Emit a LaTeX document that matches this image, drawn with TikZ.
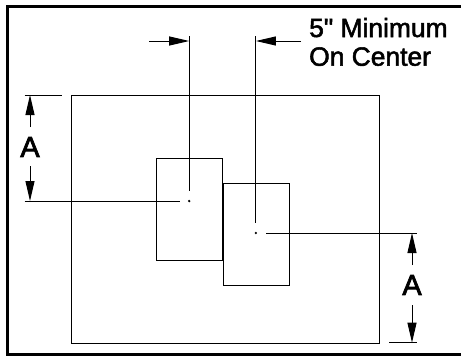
\documentclass[tikz,border=0pt]{standalone}
\usepackage{fontspec}
\setmainfont[Ligatures=NoCommon]{Liberation Sans}
\newfontfamily\notefont[FakeBold=2]{Liberation Sans}
\newfontfamily\heavyfont[FakeBold=2.5]{Liberation Sans}
\usetikzlibrary{arrows.meta,positioning,calc}

\tikzset{
  panel/.style={draw, line width=1pt, inner sep=0pt, minimum width=#1},
  extline/.style={line width=1pt},
  dimline/.style={line width=1pt, -{Triangle[length=20pt,width=9pt]}},
  letter/.style={font=\heavyfont\fontsize{29}{29}\selectfont, inner sep=0pt},
  notetext/.style={anchor=base west, inner sep=0pt, font=\notefont\fontsize{26.4}{26.4}\selectfont},
}

\begin{document}
\begin{tikzpicture}[x=1pt, y=-1pt]
\useasboundingbox (0,0) rectangle (461,356);

% outer frame
\draw[line width=3.2pt] (461,6.2) -- (7.5,6.2) -- (7.5,354.5) -- (461,354.5);

% plate and the two boxes
\node (plate) [panel=307.8pt, minimum height=247.7pt, anchor=north west] at (71,95) {};
\node (boxA) [panel=66pt, minimum height=102.3pt, anchor=north west] at (156,158) {};
\node (boxB) [panel=66.7pt, minimum height=102pt, anchor=north west] at (222.5,182.7) {};

% center points
\node (ctrA) [circle, fill, inner sep=0pt, minimum size=2.6pt] at (189.2,201) {};
\node (ctrB) [circle, fill, inner sep=0pt, minimum size=2.6pt] at (255.9,233) {};

% extension lines
\coordinate (topA) at (189.2,36);
\coordinate (topB) at (255.9,36);
\coordinate (endA) at (189.2,191);
\coordinate (endB) at (255.9,223);
\draw[extline] (topA) -- (endA);
\draw[extline] (topB) -- (endB);

\coordinate (leftA) at (24.5,201);
\coordinate (stopA) at (180,201);
\coordinate (startB) at (266,233);
\coordinate (rightB) at (417,233);
\draw[extline] (leftA) -- (stopA);
\draw[extline] (startB) -- (rightB);

\coordinate (leftT) at (24.5,95);
\coordinate (leftE) at (61.5,95);
\coordinate (rightS) at (389,342.7);
\coordinate (rightE) at (417,342.7);
\draw[extline] (leftT) -- (leftE);
\draw[extline] (rightS) -- (rightE);

% spacing dimension
\coordinate (tipA) at (189.2,41);
\coordinate (tipB) at (255.9,41);
\coordinate (tailA) at (149,41);
\coordinate (tailB) at (301,41);
\draw[dimline] (tailA) -- (tipA);
\draw[dimline] (tailB) -- (tipB);

\node (noteA) [notetext] at (309,37) {5\symbol{34} Minimum};
\node (noteB) [notetext] at (309,65.7) {On Center};

% A dimensions
\node (dimL) [letter] at (30,147) {A};
\node (dimR) [letter] at (412,285) {A};
\coordinate (dimLt) at (30,95);
\coordinate (dimLb) at (30,201);
\coordinate (dimRt) at (412,233);
\coordinate (dimRb) at (412,342.7);
\coordinate (dimLu) at (30,127);
\coordinate (dimLd) at (30,166);
\coordinate (dimRu) at (412,265);
\coordinate (dimRd) at (412,305);
\draw[dimline] (dimLu) -- (dimLt);
\draw[dimline] (dimLd) -- (dimLb);
\draw[dimline] (dimRu) -- (dimRt);
\draw[dimline] (dimRd) -- (dimRb);
\end{tikzpicture}
\end{document}
